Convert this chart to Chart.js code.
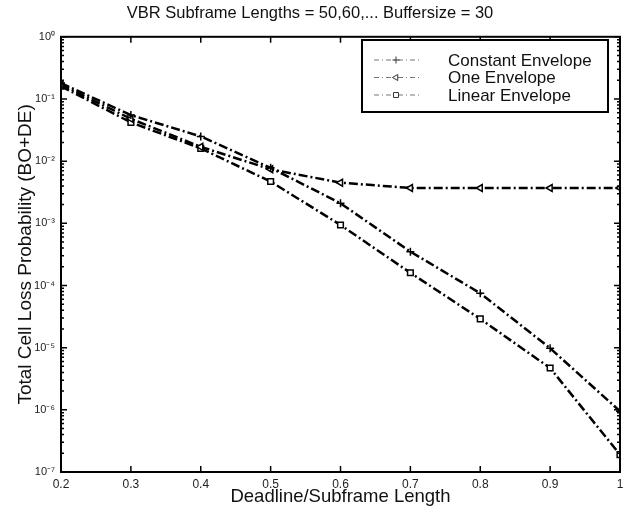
<!DOCTYPE html>
<html>
<head>
<meta charset="utf-8">
<script src="https://cdn.jsdelivr.net/npm/chart.js@4/dist/chart.umd.min.js"></script>
<style>
  html, body { margin: 0; padding: 0; background: #fff; }
  #wrap { width: 629px; height: 514px; }
</style>
</head>
<body>
<div id="wrap"><canvas id="lossChart"></canvas></div>
<script>
// data
const deadlines = [0.2, 0.3, 0.4, 0.5, 0.6, 0.7, 0.8, 0.9, 1.0];
const constantEnv = [0.18, 0.055, 0.025, 0.0078, 0.0021, 3.5e-4, 7.5e-5, 9.8e-6, 9.5e-7];
const oneEnv = [0.17, 0.048, 0.017, 0.0074, 0.0045, 0.0037, 0.0037, 0.0037, 0.0037];
const linearEnv = [0.16, 0.042, 0.016, 0.0047, 9.4e-4, 1.6e-4, 2.9e-5, 4.7e-6, 1.9e-7];
const seriesNames = ['Constant Envelope', 'One Envelope', 'Linear Envelope'];
const xTicks = [0.2, 0.3, 0.4, 0.5, 0.6, 0.7, 0.8, 0.9, 1];
const yTicks = [1e-7, 1e-6, 1e-5, 1e-4, 1e-3, 1e-2, 1e-1, 1e0];

const FONT = "'Liberation Sans', Arial, Helvetica, sans-serif";
const DASH = [9, 3, 2, 3];

const sup = { '-': '\u207B', '0': '\u2070', '1': '\u00B9', '2': '\u00B2', '3': '\u00B3',
  '4': '\u2074', '5': '\u2075', '6': '\u2076', '7': '\u2077', '8': '\u2078', '9': '\u2079' };
function powLabel(v) {
  const e = String(Math.round(Math.log10(v)));
  return '10' + e.split('').map(c => sup[c]).join('');
}

function makeSet(label, values, style, rot) {
  return {
    label: label,
    data: deadlines.map((x, i) => ({ x: x, y: values[i] })),
    borderColor: '#000',
    borderWidth: 2.5,
    borderDash: DASH,
    pointStyle: style,
    pointRotation: rot,
    pointRadius: 4,
    pointBorderWidth: 1.5,
    pointBorderColor: '#000',
    pointBackgroundColor: '#fff',
    tension: 0
  };
}

// MATLAB-style frame, inward ticks and boxed legend
const matlabFrame = {
  id: 'matlabFrame',
  afterDraw(chart) {
    const ctx = chart.ctx;
    const a = chart.chartArea;
    const xs = chart.scales.x, ys = chart.scales.y;
    ctx.save();
    ctx.strokeStyle = '#000';
    ctx.lineWidth = 2;
    ctx.setLineDash([]);
    ctx.strokeRect(a.left, a.top, a.right - a.left, a.bottom - a.top);

    ctx.beginPath();
    xTicks.forEach(t => {
      const px = xs.getPixelForValue(t);
      ctx.moveTo(px, a.bottom); ctx.lineTo(px, a.bottom - 6);
      ctx.moveTo(px, a.top); ctx.lineTo(px, a.top + 6);
    });
    yTicks.forEach((t, i) => {
      const py = ys.getPixelForValue(t);
      ctx.moveTo(a.left, py); ctx.lineTo(a.left + 6, py);
      ctx.moveTo(a.right, py); ctx.lineTo(a.right - 6, py);
      if (i < yTicks.length - 1) {
        for (let m = 2; m <= 9; m++) {
          const pm = ys.getPixelForValue(t * m);
          ctx.moveTo(a.left, pm); ctx.lineTo(a.left + 3, pm);
          ctx.moveTo(a.right, pm); ctx.lineTo(a.right - 3, pm);
        }
      }
    });
    ctx.lineWidth = 1.5;
    ctx.stroke();

    // legend
    const bx = 362, by = 40, bw = 246, bh = 72;
    ctx.fillStyle = '#fff';
    ctx.fillRect(bx, by, bw, bh);
    ctx.lineWidth = 2;
    ctx.strokeRect(bx, by, bw, bh);
    ctx.font = '17px ' + FONT;
    ctx.textBaseline = 'middle';
    chart.data.datasets.forEach((ds, i) => {
      const ry = by + 20 + i * 17.5;
      ctx.strokeStyle = '#777';
      ctx.lineWidth = 1;
      ctx.setLineDash([5, 3, 1, 3]);
      ctx.beginPath();
      ctx.moveTo(bx + 12, ry); ctx.lineTo(bx + 57, ry);
      ctx.stroke();
      ctx.setLineDash([]);
      ctx.strokeStyle = '#333';
      ctx.fillStyle = '#fff';
      Chart.helpers.drawPoint(ctx, {
        pointStyle: ds.pointStyle, rotation: ds.pointRotation, radius: 3.5, borderWidth: 1
      }, bx + 34, ry);
      ctx.fillStyle = '#111';
      ctx.fillText(ds.label, bx + 86, ry + 1);
    });
    ctx.restore();
  }
};

const chart = new Chart(document.getElementById('lossChart'), {
  type: 'line',
  data: {
    datasets: [
      makeSet(seriesNames[0], constantEnv, 'cross', 0),
      makeSet(seriesNames[1], oneEnv, 'triangle', -90),
      makeSet(seriesNames[2], linearEnv, 'rect', 0)
    ]
  },
  options: {
    responsive: true,
    maintainAspectRatio: false,
    animation: false,
    layout: { padding: { top: 0, right: 9, left: 0, bottom: 0 } },
    plugins: {
      legend: { display: false },
      tooltip: { enabled: false },
      title: {
        display: true,
        text: 'VBR Subframe Lengths = 50,60,... Buffersize = 30',
        color: '#111',
        font: { family: FONT, size: 16.5, weight: 'normal', lineHeight: 1.2 },
        padding: { top: 4, bottom: 13 }
      }
    },
    scales: {
      x: {
        type: 'linear',
        min: 0.2,
        max: 1,
        afterBuildTicks: s => { s.ticks = xTicks.map(v => ({ value: v })); },
        afterFit: s => { s.height = 42; },
        grid: { display: false, drawTicks: false },
        border: { display: false },
        ticks: {
          color: '#222',
          padding: 5,
          font: { family: FONT, size: 12 },
          callback: v => String(Math.round(v * 10) / 10)
        },
        title: {
          display: true,
          text: 'Deadline/Subframe Length',
          color: '#111',
          font: { family: FONT, size: 18.5, lineHeight: 1.2 },
          padding: { top: 0, bottom: 6 }
        }
      },
      y: {
        type: 'logarithmic',
        min: 1e-7,
        max: 1,
        afterBuildTicks: s => { s.ticks = yTicks.map(v => ({ value: v })); },
        afterFit: s => { s.width = 61; },
        grid: { display: false, drawTicks: false },
        border: { display: false },
        ticks: {
          color: '#222',
          padding: 6,
          font: { family: FONT, size: 11 },
          callback: v => powLabel(v)
        },
        title: {
          display: true,
          text: 'Total Cell Loss Probability (BO+DE)',
          color: '#111',
          font: { family: FONT, size: 19, lineHeight: 1.2 },
          padding: { top: 14, bottom: 0 }
        }
      }
    }
  },
  plugins: [matlabFrame]
});
</script>
</body>
</html>
